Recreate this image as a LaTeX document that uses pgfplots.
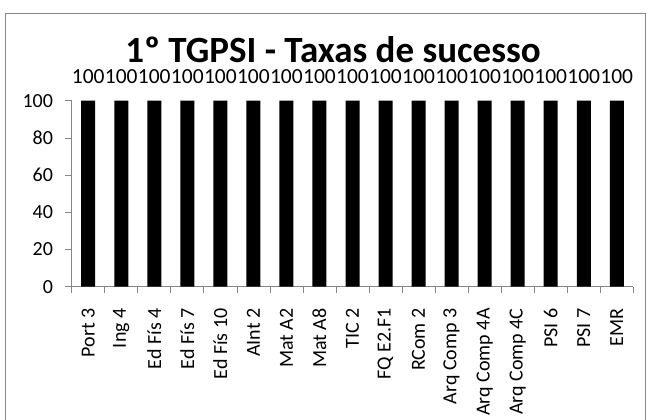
\documentclass[border=0pt]{standalone}
\usepackage{pgfplots}
\pgfplotsset{compat=1.18}
\usepackage{fontspec}
\setmainfont{Carlito}
\definecolor{axgray}{HTML}{868686}
\begin{document}
\begin{tikzpicture}
\useasboundingbox (0bp,0bp) rectangle (649bp,420bp);
\draw[axgray, line width=1bp] (5.5bp,-5bp) rectangle (645.5bp,406.5bp);
\node[anchor=base, font=\bfseries\fontsize{37bp}{40bp}\selectfont, inner sep=0pt] at (333bp,357bp) {1º TGPSI - Taxas de sucesso};
\begin{axis}[
 at={(71.7bp,133.3bp)}, anchor=south west,
 scale only axis, width=561.6bp, height=186bp,
 ybar, bar width=14bp,
 xmin=-0.5, xmax=16.5, ymin=0, ymax=100,
 axis x line*=bottom, axis y line*=left,
 axis line style={axgray, line width=0.75bp},
 tick style={axgray, line width=0.75bp},
 tick align=outside,
 /pgf/number format/assume math mode=true,
 xtick={0,...,16},
 xticklabels={Port 3, Ing 4, Ed Fís 4, Ed Fís 7, Ed Fís 10, AInt 2, Mat A2, Mat A8, TIC 2, FQ E2.F1, RCom 2, Arq Comp 3, Arq Comp 4A, Arq Comp 4C, PSI 6, PSI 7, EMR},
 minor xtick={-0.5,0.5,...,16.5},
 major x tick style={draw=none},
 minor tick length=6.5bp,
 major tick length=6.5bp,
 xticklabel style={rotate=90, anchor=east, inner sep=0pt, font=\fontsize{20bp}{24bp}\selectfont},
 xticklabel shift=15bp,
 ytick={0,20,...,100},
 yticklabel style={anchor=east, inner sep=0pt, font=\fontsize{20bp}{24bp}\selectfont},
 yticklabel shift=12bp,
 nodes near coords,
 every node near coord/.append style={font=\fontsize{21.5bp}{24bp}\selectfont, anchor=base, inner sep=0pt, yshift=17bp, black},
]
\addplot[fill=black, draw=none] coordinates {(0,100) (1,100) (2,100) (3,100) (4,100) (5,100) (6,100) (7,100) (8,100) (9,100) (10,100) (11,100) (12,100) (13,100) (14,100) (15,100) (16,100)};
\end{axis}
\end{tikzpicture}
\end{document}
